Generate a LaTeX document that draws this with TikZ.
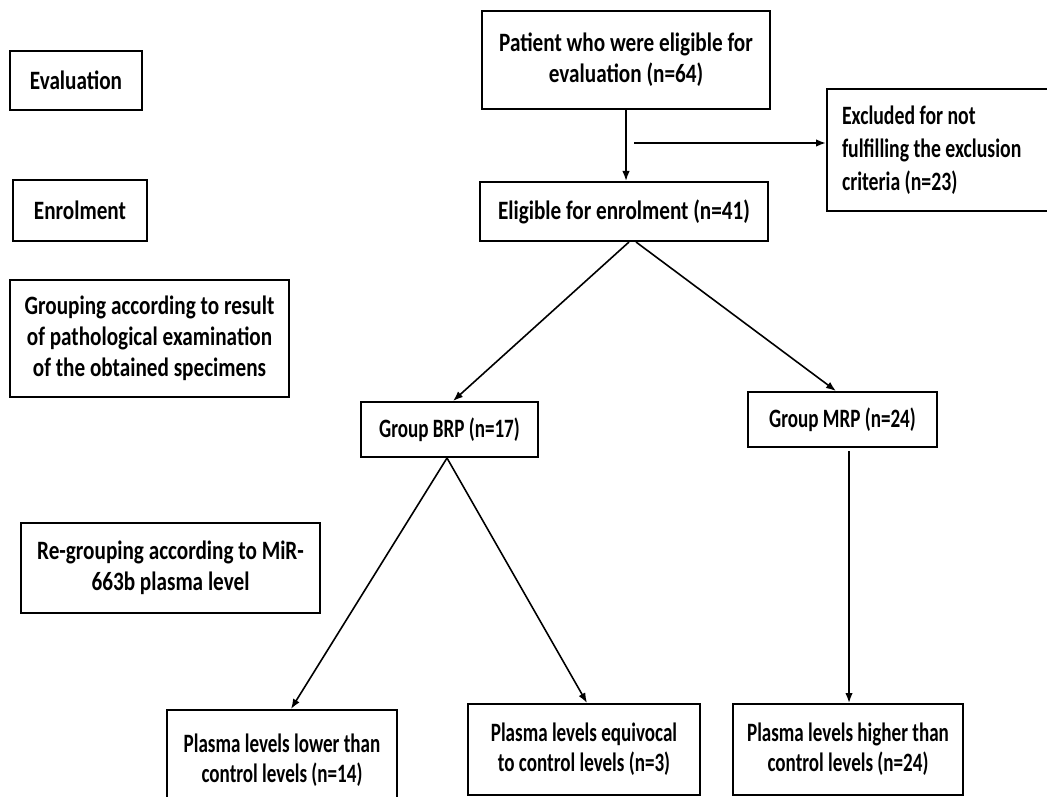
\documentclass[tikz,border=0pt]{standalone}
\usepackage{fontspec}
\setmainfont{Carlito}[FakeStretch=0.8]
\newfontfamily\narrowfont{Carlito}[FakeStretch=0.72]
\newfontfamily\midfont{Carlito}[FakeStretch=0.745]
\usetikzlibrary{arrows.meta}
\begin{document}
\begin{tikzpicture}[x=1pt,y=-1pt,
  box/.style={draw, line width=2pt, inner sep=0pt, align=center,
    font=\fontsize{26.5}{31}\selectfont\bfseries},
  nbox/.style={box, font=\fontsize{26.5}{30}\narrowfont\bfseries},
  arr/.style={line width=1.6pt, -{Latex[length=10pt,width=7.5pt]}}]
\useasboundingbox (0,0) rectangle (1047,797);
\fill[white] (0,0) rectangle (1047,797);

% left stage labels
\node[box, minimum width=132, minimum height=59] (eval) at (76,80.5) {Evaluation};
\node[box, minimum width=134, minimum height=61] (enrol) at (80,210.5) {Enrolment};
\node[box, minimum width=279, minimum height=117] (grouping) at (149.5,338.5)
  {Grouping according to result\\of pathological examination\\of the obtained specimens};
\node[box, minimum width=299, minimum height=90] (regroup) at (170.5,568)
  {Re-grouping according to MiR-\\663b plasma level};

% flow
\node[box, minimum width=288, minimum height=98] (patient) at (626,60)
  {Patient who were eligible for\\evaluation (n=64)};
\node[box, anchor=north west, inner xsep=15pt, text width=260, align=flush left,
  minimum height=122, font=\fontsize{26.5}{33}\midfont\bfseries] (excl) at (826,88)
  {Excluded for not\\fulfilling the exclusion\\criteria (n=23)};
\node[box, minimum width=288, minimum height=59] (elig) at (624,211.5)
  {Eligible for enrolment (n=41)};
\node[nbox, minimum width=177, minimum height=55] (brp) at (449.5,429.5) {Group BRP (n=17)};
\node[nbox, minimum width=189, minimum height=55] (mrp) at (842.5,419.5) {Group MRP (n=24)};
\node[nbox, minimum width=230, minimum height=100] (lower) at (282,760)
  {Plasma levels lower than\\control levels (n=14)};
\node[nbox, minimum width=232, minimum height=91] (equiv) at (584,749.5)
  {Plasma levels equivocal\\to control levels (n=3)};
\node[nbox, minimum width=230, minimum height=91] (higher) at (848,749.5)
  {Plasma levels higher than\\control levels (n=24)};

% connectors
\coordinate (exs) at (634,143);
\draw[arr] (patient.south) -- (patient.south |- elig.north);
\draw[arr] (exs) -- (excl.west |- exs);
\draw[arr] ([xshift=5pt]elig.south) -- ([xshift=3.5pt]brp.north);
\draw[arr] ([xshift=12pt]elig.south) -- ([xshift=-6.5pt]mrp.north);
\draw[arr] ([xshift=-2.5pt]brp.south) -- ([xshift=9pt]lower.north);
\draw[arr] ([xshift=-2.5pt]brp.south) -- ([xshift=3pt]equiv.north);
\draw[arr] ([xshift=6.5pt,yshift=-3pt]mrp.south) -- ([xshift=1pt]higher.north);
\end{tikzpicture}
\end{document}
